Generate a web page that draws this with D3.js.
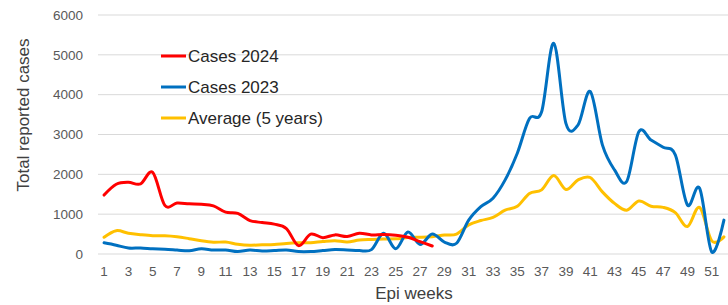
<!DOCTYPE html>
<html>
<head>
<meta charset="utf-8">
<script src="https://cdn.jsdelivr.net/npm/d3@7"></script>
<style>
  body { margin: 0; background: #fff; }
  svg { display: block; font-family: "Liberation Sans", Arial, sans-serif; }
</style>
</head>
<body>
<svg width="728" height="305"></svg>
<script>
var weeks = d3.range(1, 53);
var yTicks = [0, 1000, 2000, 3000, 4000, 5000, 6000];

var cases2024 = [1480, 1750, 1800, 1760, 2050, 1220, 1280, 1260, 1250, 1210, 1050, 1020, 840, 790, 750, 640,
  210, 500, 410, 480, 440, 520, 480, 490, 470, 420, 310, 200];

var cases2023 = [280, 220, 150, 150, 130, 120, 100, 80, 130, 100, 100, 60, 100, 75, 85, 100, 60, 60, 85, 110,
  100, 85, 110, 520, 130, 550, 240, 500, 300, 270, 850, 1190, 1400, 1860, 2530, 3400, 3570, 5290, 3280, 3240,
  4080, 2740, 2110, 1820, 3070, 2860, 2680, 2490, 1230, 1650, 50, 850];

var average5 = [420, 585, 520, 485, 460, 460, 435, 385, 330, 295, 300, 245, 220, 230, 240, 265, 280, 285, 315, 335,
  300, 350, 365, 375, 380, 415, 420, 435, 475, 500, 730, 840, 920, 1100, 1200, 1520, 1610, 1970, 1620, 1860,
  1920, 1560, 1270, 1100, 1330, 1200, 1170, 1040, 690, 1170, 330, 430];

var seriesNames = ["Cases 2024", "Cases 2023", "Average (5 years)"];
var seriesColors = ["#ff0000", "#0070c0", "#ffc000"];

function chart() {
  var svg = d3.select("svg");

  var x = d3.scalePoint()
    .domain(weeks)
    .range([98, 730])
    .padding(0.5);

  var y = d3.scaleLinear()
    .domain([0, 6000])
    .range([254, 15]);

  // gridlines
  svg.append("g")
    .selectAll("line")
    .data(yTicks)
    .enter()
    .append("line")
    .attr("x1", 98)
    .attr("x2", 728)
    .attr("y1", function (d) { return y(d); })
    .attr("y2", function (d) { return y(d); })
    .attr("stroke", "#d9d9d9")
    .attr("stroke-width", 1);

  // y tick labels
  svg.append("g")
    .selectAll("text")
    .data(yTicks)
    .enter()
    .append("text")
    .attr("x", 83)
    .attr("y", function (d) { return y(d); })
    .attr("dy", "0.35em")
    .attr("text-anchor", "end")
    .style("font-size", "13.5px")
    .style("fill", "#595959")
    .text(function (d) { return d; });

  // x tick labels, odd weeks only
  svg.append("g")
    .selectAll("text")
    .data(weeks.filter(function (w) { return w % 2 === 1; }))
    .enter()
    .append("text")
    .attr("x", function (d) { return x(d); })
    .attr("y", 271)
    .attr("dy", "0.35em")
    .attr("text-anchor", "middle")
    .style("font-size", "13.5px")
    .style("fill", "#595959")
    .text(function (d) { return d; });

  // axis titles
  svg.append("text")
    .attr("x", 414)
    .attr("y", 293)
    .attr("dy", "0.35em")
    .attr("text-anchor", "middle")
    .style("font-size", "17px")
    .style("fill", "#404040")
    .text("Epi weeks");

  svg.append("text")
    .attr("transform", "translate(23,115) rotate(-90)")
    .attr("dy", "0.35em")
    .attr("text-anchor", "middle")
    .style("font-size", "17px")
    .style("fill", "#404040")
    .text("Total reported cases");

  var line = d3.line()
    .x(function (d, i) { return x(weeks[i]); })
    .y(function (d) { return y(d); })
    .curve(d3.curveCardinal.tension(0));

  // draw average first, then 2023, then 2024 on top
  var series = [cases2024, cases2023, average5];
  [2, 1, 0].forEach(function (k) {
    svg.append("path")
      .datum(series[k])
      .attr("d", line)
      .attr("fill", "none")
      .attr("stroke", seriesColors[k])
      .attr("stroke-width", 3)
      .attr("stroke-linejoin", "round")
      .attr("stroke-linecap", "round");
  });

  // legend
  var legend = svg.append("g")
    .selectAll("g")
    .data(seriesNames)
    .enter()
    .append("g")
    .attr("transform", function (d, i) { return "translate(161," + (56 + i * 31) + ")"; });

  legend.append("line")
    .attr("x1", 0)
    .attr("x2", 25)
    .attr("stroke", function (d, i) { return seriesColors[i]; })
    .attr("stroke-width", 3);

  legend.append("text")
    .attr("x", 27)
    .attr("dy", "0.35em")
    .style("font-size", "17px")
    .style("fill", "#262626")
    .text(function (d) { return d; });
}

chart();
</script>
</body>
</html>
